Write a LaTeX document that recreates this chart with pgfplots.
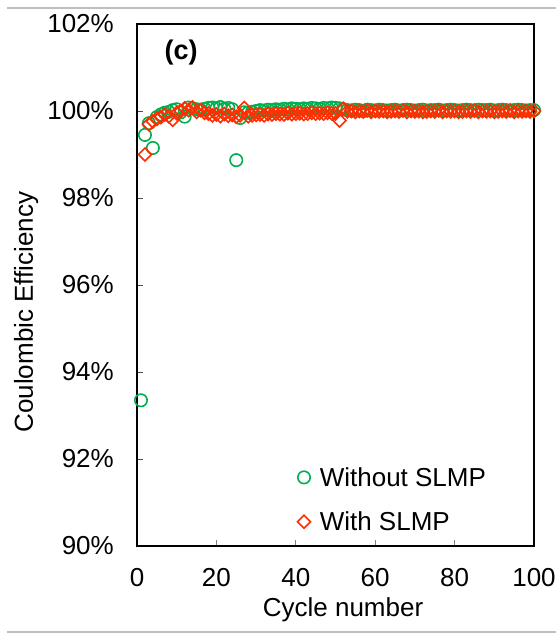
\documentclass[border=0pt]{standalone}
\usepackage{fontspec}
\setmainfont{Liberation Sans}
\usepackage{pgfplots}
\pgfplotsset{compat=1.18}
\definecolor{cegreen}{RGB}{0,176,80}
\definecolor{cered}{RGB}{255,45,0}
\newcommand{\bigf}{\fontsize{26bp}{31bp}\selectfont}

\pgfplotstableread{
cyc ce
1 93.35
2 99.45
3 99.72
4 99.15
5 99.86
6 99.92
7 99.96
8 99.98
9 100.02
10 100.04
11 99.97
12 99.87
13 100.08
14 100.06
15 100.04
16 100.02
17 100.05
18 100.07
19 100.08
20 100.06
21 100.09
22 100.05
23 100.07
24 100.04
25 98.87
26 99.84
27 99.97
28 99.96
29 99.98
30 100.00
31 100.02
32 100.01
33 100.03
34 100.02
35 100.04
36 100.03
37 100.05
38 100.04
39 100.06
40 100.05
41 100.04
42 100.06
43 100.05
44 100.07
45 100.06
46 100.05
47 100.07
48 100.06
49 100.08
50 100.07
51 100.06
52 100.04
53 100.02
54 100.01
55 100.03
56 100.02
57 100.00
58 100.03
59 100.02
60 100.01
61 100.03
62 100.02
63 100.01
64 100.02
65 100.03
66 100.01
67 100.02
68 100.03
69 100.02
70 100.01
71 100.02
72 100.03
73 100.01
74 100.02
75 100.02
76 100.03
77 100.01
78 100.02
79 100.03
80 100.02
81 100.01
82 100.02
83 100.03
84 100.02
85 100.01
86 100.03
87 100.02
88 100.02
89 100.03
90 100.01
91 100.02
92 100.03
93 100.02
94 100.01
95 100.02
96 100.03
97 100.02
98 100.01
99 100.02
100 100.02
}\withoutslmp

\pgfplotstableread{
cyc ce
2 99.00
3 99.70
4 99.76
5 99.82
6 99.86
7 99.92
8 99.88
9 99.80
10 99.95
11 100.00
12 100.06
13 100.02
14 100.08
15 99.98
16 100.02
17 99.96
18 99.94
19 99.90
20 99.92
21 99.88
22 99.93
23 99.89
24 99.91
25 99.87
26 99.90
27 100.07
28 99.88
29 99.90
30 99.91
31 99.92
32 99.90
33 99.93
34 99.92
35 99.94
36 99.93
37 99.92
38 99.95
39 99.93
40 99.94
41 99.95
42 99.93
43 99.94
44 99.96
45 99.94
46 99.95
47 99.94
48 99.96
49 99.95
50 99.94
51 99.78
52 100.05
53 99.99
54 100.00
55 99.98
56 100.00
57 99.99
58 100.01
59 99.98
60 100.00
61 99.99
62 100.00
63 99.98
64 99.99
65 100.00
66 99.99
67 100.01
68 99.98
69 100.00
70 99.99
71 100.00
72 99.98
73 99.99
74 100.00
75 99.99
76 100.01
77 99.98
78 100.00
79 99.99
80 100.00
81 99.98
82 99.99
83 100.00
84 99.99
85 100.01
86 99.98
87 100.00
88 99.99
89 100.00
90 99.98
91 99.99
92 100.00
93 99.99
94 100.01
95 99.98
96 100.00
97 99.99
98 100.00
99 99.99
100 100.00
}\withslmp

\begin{document}
\begin{tikzpicture}
\begin{axis}[
    scale only axis,
    width=397bp, height=522bp,
    xmin=0, xmax=100, ymin=90, ymax=102,
    xtick={0,20,40,60,80,100},
    ytick={90,92,94,96,98,100,102},
    yticklabels={90\%,92\%,94\%,96\%,98\%,100\%,102\%},
    xtick pos=bottom, ytick pos=left,
    tick align=inside,
    major tick length=6bp,
    xtick style={gray, line width=0.8bp},
    ytick style={black!70, line width=0.8bp},
    axis line style={black, line width=1.6bp},
    /pgf/number format/assume math mode=true,
    tick label style={font=\bigf},
    yticklabel style={inner sep=0pt, xshift=-23bp},
    xticklabel style={inner sep=0pt, yshift=-22bp},
    xlabel={Cycle number},
    ylabel={Coulombic Efficiency},
    xlabel style={font=\bigf, at={(rel axis cs:0.519,-0.136)}, anchor=base},
    ylabel style={font=\bigf, at={(rel axis cs:-0.262,0.448)}, anchor=base, rotate=0},
    legend style={draw=none, fill=none, font=\bigf,
        at={(rel axis cs:0.398,0.019)}, anchor=south west,
        row sep=20bp, inner sep=2bp},
    legend cell align=left,
    legend image code/.code={\draw[#1] plot coordinates {(6bp,0bp)};
        \path (0bp,0bp) (19bp,0bp);},
]
\addplot[only marks, mark=o, mark size=6.2bp, cegreen, line width=1.6bp]
    table[x=cyc, y=ce] {\withoutslmp};
\addlegendentry{Without SLMP}
\addplot[only marks, mark=square, mark size=4.6bp, cered, line width=1.6bp,
    mark options={rotate=45}]
    table[x=cyc, y=ce] {\withslmp};
\addlegendentry{With SLMP}
\node[font=\bfseries\fontsize{27bp}{32bp}\selectfont] at (rel axis cs:0.111,0.946) {(c)};
\end{axis}
\draw[black!25, line width=1.4bp]
    ([shift={(-130bp,16bp)}]current axis.north west) --
    ([shift={(22bp,16bp)}]current axis.north east);
\draw[black!25, line width=1.4bp]
    ([shift={(-130bp,-86bp)}]current axis.south west) --
    ([shift={(22bp,-86bp)}]current axis.south east);
\path ([shift={(-137bp,24bp)}]current axis.north west)
      ([shift={(22bp,-89bp)}]current axis.south east);
\end{tikzpicture}
\end{document}
